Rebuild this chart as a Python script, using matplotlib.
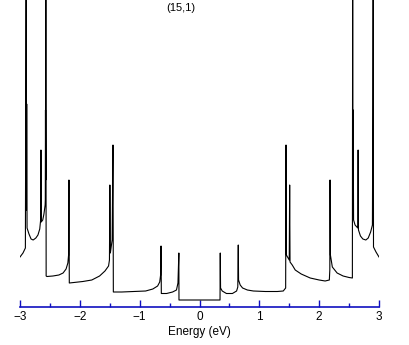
import numpy as np
import matplotlib
matplotlib.use("Agg")
import matplotlib.pyplot as plt

# DOS of a (15,1) nanotube (arbitrary units)
e_neg = [-3.00, -2.95, -2.91, -2.897, -2.892, -2.888, -2.882, -2.85, -2.815,
         -2.78, -2.735, -2.70, -2.67, -2.655, -2.650, -2.645, -2.62, -2.60,
         -2.58, -2.577, -2.574, -2.571, -2.568, -2.563, -2.55, -2.45, -2.35,
         -2.28, -2.23, -2.20, -2.188, -2.182, -2.176, -2.10, -1.95, -1.80,
         -1.67, -1.58, -1.52, -1.505, -1.498, -1.49, -1.46, -1.446, -1.44,
         -1.30, -1.10, -0.90, -0.78, -0.70, -0.665, -0.650, -0.643, -0.638,
         -0.55, -0.45, -0.385, -0.36, -0.345, -0.343]
d_neg = [0.43, 0.47, 0.52, 3.5, 0.9, 1.96, 0.72, 0.66, 0.61,
         0.60, 0.62, 0.65, 0.71, 0.80, 1.50, 0.78, 0.80, 0.86,
         0.95, 1.0, 1.90, 1.2, 3.5, 0.24, 0.235, 0.24, 0.25,
         0.27, 0.31, 0.37, 0.45, 1.20, 0.17, 0.175, 0.185, 0.20,
         0.24, 0.29, 0.34, 0.40, 1.15, 0.47, 0.60, 1.55, 0.08,
         0.08, 0.085, 0.09, 0.11, 0.14, 0.18, 0.25, 0.54, 0.065,
         0.065, 0.08, 0.10, 0.17, 0.47, 0.0]

e_pos = [0.343, 0.347, 0.352, 0.38, 0.45, 0.55, 0.62, 0.64, 0.648, 0.653,
         0.68, 0.72, 0.80, 0.90, 1.10, 1.30, 1.40, 1.440, 1.446, 1.452,
         1.50, 1.507, 1.513, 1.55, 1.60, 1.70, 1.85, 2.00, 2.10, 2.17,
         2.178, 2.182, 2.188, 2.22, 2.30, 2.40, 2.50, 2.555, 2.560, 2.564,
         2.568, 2.575, 2.60, 2.645, 2.651, 2.657, 2.69, 2.73, 2.78, 2.82,
         2.86, 2.89, 2.897, 2.903, 2.908, 2.95, 3.00]
d_pos = [0.0, 0.47, 0.12, 0.09, 0.065, 0.065, 0.09, 0.13, 0.55, 0.20,
         0.15, 0.12, 0.10, 0.09, 0.085, 0.085, 0.09, 0.12, 1.55, 0.45,
         0.40, 1.15, 0.38, 0.35, 0.30, 0.26, 0.22, 0.20, 0.19, 0.20,
         0.30, 1.20, 0.45, 0.33, 0.27, 0.24, 0.225, 0.22, 3.5, 0.85,
         1.90, 0.80, 0.75, 0.72, 1.50, 0.70, 0.64, 0.61, 0.60, 0.62,
         0.68, 0.75, 1.96, 3.5, 0.53, 0.48, 0.43]

energy = np.array(e_neg + e_pos)
dos = np.array(d_neg + d_pos)

xticks = [-3, -2, -1, 0, 1, 2, 3]
title = "(15,1)"

fig = plt.figure(figsize=(4.09, 3.45), dpi=100)
ax = fig.add_axes([20 / 409, 38 / 345, 359 / 409, 307 / 345])

ax.plot(energy, dos, color="black", lw=0.8)
ax.set_xlim(-3, 3)
ax.set_ylim(-0.07, 3.0)

for s in ["left", "top", "right"]:
    ax.spines[s].set_visible(False)
ax.spines["bottom"].set_color("#1010c0")
ax.spines["bottom"].set_linewidth(1.2)
ax.set_yticks([])
ax.set_xticks(xticks)
ax.set_xticks(np.arange(-2.5, 3, 1.0), minor=True)
ax.tick_params(axis="x", which="major", direction="in", length=5,
               width=1.0, color="#1010c0", labelsize=8.5, pad=3)
ax.tick_params(axis="x", which="minor", direction="in", length=3,
               width=1.0, color="#1010c0")
for lab in ax.get_xticklabels():
    lab.set_family("Liberation Sans")
ax.set_xlabel("Energy (eV)", fontsize=8.5, family="Liberation Sans", labelpad=2)

fig.text(181 / 409, 1 - 8 / 345, title, ha="center", va="center",
         fontsize=8, family="Liberation Sans")

fig.savefig("out.png", dpi=100)
